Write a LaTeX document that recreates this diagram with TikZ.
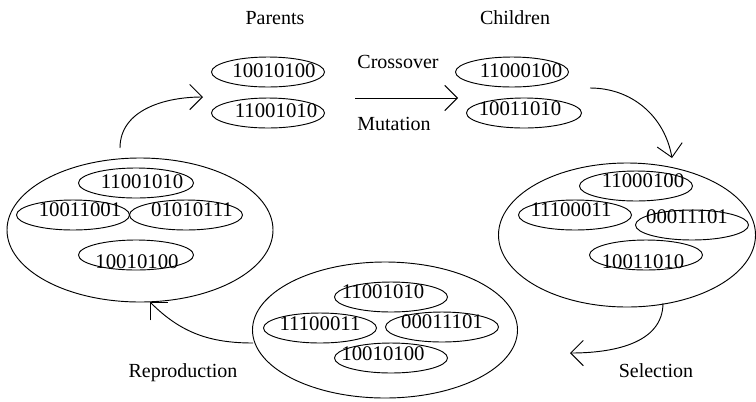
\documentclass[tikz,border=0pt]{standalone}
\usepackage{fontspec}
\setmainfont{Liberation Serif}
\usetikzlibrary{arrows.meta,shapes.geometric}
\begin{document}
\begin{tikzpicture}[x=0.75pt,y=-0.75pt,line width=0.7pt,
  gene/.style={draw,ellipse,inner sep=0pt,minimum width=84.75pt,minimum height=22.5pt},
  pool/.style={draw,ellipse,inner sep=0pt},
  bits/.style={inner sep=0pt,font=\fontsize{15.6}{18}\selectfont},
  lbl/.style={inner sep=0pt,anchor=base,font=\fontsize{15}{18}\selectfont},
  flow/.style={-{Straight Barb[length=9.5pt,width=19pt,line width=0.7pt]}}]
\useasboundingbox (0,0) rectangle (756,401);
% labels
\node[lbl] (parents) at (275,24) {Parents};
\node[lbl] (children) at (515,24) {Children};
\node[lbl] (cross) at (398,68) {Crossover};
\node[lbl] (mut) at (394,130) {Mutation};
\node[lbl] (repro) at (183,377) {Reproduction};
\node[lbl] (sel) at (656,377) {Selection};
% parents
\node[gene] (p1) at (268,72) {};
\node[bits] (p1t) at (274,71) {10010100};
\node[gene] (p2) at (268,113) {};
\node[bits] (p2t) at (276,111) {11001010};
% children
\node[gene] (c1) at (512,72) {};
\node[bits] (c1t) at (521,71) {11000100};
\node[gene,minimum width=86.25pt] (c2) at (524,113) {};
\node[bits] (c2t) at (520,109) {10011010};
% left pool
\node[pool,minimum width=199.5pt,minimum height=108pt] (L) at (140,230) {};
\node[gene,minimum width=86.25pt] (l1) at (136,183) {};
\node[bits] (l1t) at (142,182) {11001010};
\node[gene] (l2) at (73,215) {};
\node[bits] (l2t) at (80,210) {10011001};
\node[gene] (l3) at (186,215) {};
\node[bits] (l3t) at (192,210) {01010111};
\node[gene,minimum width=86.25pt] (l4) at (136,255) {};
\node[bits] (l4t) at (137,262) {10010100};
% bottom pool
\node[pool,minimum width=198.75pt,minimum height=102pt] (B) at (385,330) {};
\node[gene] (b1) at (391,297) {};
\node[bits] (b1t) at (383,292) {11001010};
\node[gene] (b2) at (320,328) {};
\node[bits] (b2t) at (320,324) {11100011};
\node[gene] (b3) at (442,327) {};
\node[bits] (b3t) at (442,322) {00011101};
\node[gene] (b4) at (391,358) {};
\node[bits] (b4t) at (383,354) {10010100};
% right pool
\node[pool,minimum width=192.75pt,minimum height=108pt] (R) at (627,235) {};
\node[gene] (r1) at (636,186) {};
\node[bits] (r1t) at (643,181) {11000100};
\node[gene] (r2) at (575,215) {};
\node[bits] (r2t) at (571,210) {11100011};
\node[gene] (r3) at (692,225) {};
\node[bits] (r3t) at (687,217) {00011101};
\node[gene] (r4) at (646,255) {};
\node[bits] (r4t) at (643,262) {10011010};
% connector ends
\coordinate (a1s) at (120,148);
\coordinate (a1e) at (203,97);
\coordinate (a2s) at (355,98);
\coordinate (a2e) at (458,98);
\coordinate (a3s) at (590,88);
\coordinate (a3e) at (672,158);
\coordinate (a4s) at (663,303);
\coordinate (a4e) at (570,353);
\coordinate (a5s) at (253,343);
\coordinate (a5e) at (150,302);
% connectors
\draw[flow] (a1s) to[out=90,in=180] (a1e);
\draw[flow] (a2s) -- (a2e);
\draw[flow] (a3s) to[out=0,in=100] (a3e);
\draw[flow] (a4s) to[out=-90,in=0] (a4e);
\draw[flow] (a5s) to[out=180,in=-45] (a5e);
\end{tikzpicture}
\end{document}
